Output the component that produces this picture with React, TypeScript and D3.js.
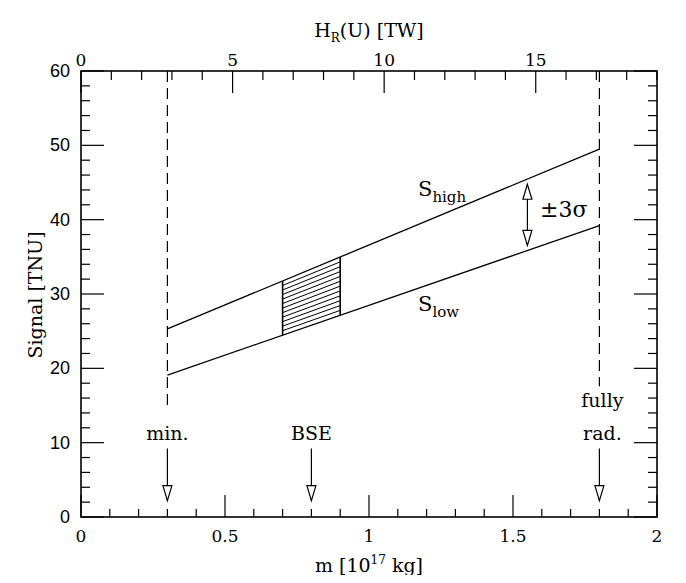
import React, { useEffect, useRef } from 'react';
import * as d3 from 'd3';

// S_high and S_low (TNU) at the two ends of the allowed mass range
const massEnds = [0.3, 1.8];
const sHigh = [25.3, 49.5];
const sLow = [19.1, 39.2];
// BSE band
const bseRange = [0.7, 0.9];
// markers (m, label lines)
const markers = [
  { m: 0.3, lines: ['min.'] },
  { m: 0.8, lines: ['BSE'] },
  { m: 1.8, lines: ['fully', 'rad.'] },
];
const dashedLines = [
  { m: 0.3, to: 15 },
  { m: 1.8, to: 17.6 },
];
const xTicks = [0, 0.5, 1, 1.5, 2];
const yTicks = [0, 10, 20, 30, 40, 50, 60];
const topTicks = [0, 5, 10, 15];
const hrMax = 19; // H_R(U) [TW] at m = 2

const serif = '"DejaVu Serif", serif';
const sans = '"Liberation Sans", Arial, sans-serif';

const App = () => {
  const svgRef = useRef<SVGSVGElement>(null);

  useEffect(() => {
    const svg = d3.select(svgRef.current);
    svg.selectAll('*').remove();

    const margin = { left: 81, right: 657, top: 71, bottom: 517 };
    const x = d3.scaleLinear().domain([0, 2]).range([margin.left, margin.right]);
    const y = d3.scaleLinear().domain([0, 60]).range([margin.bottom, margin.top]);
    const xTop = d3.scaleLinear().domain([0, hrMax]).range([margin.left, margin.right]);

    const g = svg.append('g');

    // open arrow head with its tip at (px, py), pointing up (dir=-1) or down (dir=1)
    const head = (px: number, py: number, dir: number) => {
      const len = 15, half = 4.5;
      g.append('path')
        .attr('d', `M${px},${py} L${px - half},${py - dir * len} L${px + half},${py - dir * len} Z`)
        .attr('fill', 'white')
        .attr('stroke', 'black')
        .attr('stroke-width', 1.2)
        .attr('stroke-linejoin', 'miter');
    };

    // frame
    g.append('rect')
      .attr('x', margin.left)
      .attr('y', margin.top)
      .attr('width', margin.right - margin.left)
      .attr('height', margin.bottom - margin.top)
      .attr('fill', 'none')
      .attr('stroke', 'black')
      .attr('stroke-width', 1.6);

    // bottom m ticks, top H_R ticks
    d3.range(0, 2.0001, 0.1).forEach((v) => {
      const major = Math.abs(v * 2 - Math.round(v * 2)) < 1e-6;
      const len = major ? 22 : 8;
      g.append('line')
        .attr('x1', x(v)).attr('x2', x(v))
        .attr('y1', margin.bottom).attr('y2', margin.bottom - len)
        .attr('stroke', 'black').attr('stroke-width', 1.2);
    });
    d3.range(0, hrMax + 0.001, 1).forEach((v) => {
      const len = v % 5 === 0 ? 22 : 9;
      g.append('line')
        .attr('x1', xTop(v)).attr('x2', xTop(v))
        .attr('y1', margin.top).attr('y2', margin.top + len)
        .attr('stroke', 'black').attr('stroke-width', 1.2);
    });
    // left/right ticks
    d3.range(0, 60.001, 2).forEach((v) => {
      const len = v % 10 === 0 ? 23 : 9;
      g.append('line')
        .attr('x1', margin.left).attr('x2', margin.left + len)
        .attr('y1', y(v)).attr('y2', y(v))
        .attr('stroke', 'black').attr('stroke-width', 1.2);
      g.append('line')
        .attr('x1', margin.right).attr('x2', margin.right - len)
        .attr('y1', y(v)).attr('y2', y(v))
        .attr('stroke', 'black').attr('stroke-width', 1.2);
    });

    // tick labels
    g.selectAll('.xt')
      .data(xTicks)
      .join('text')
      .attr('x', (d) => x(d))
      .attr('y', 542)
      .attr('text-anchor', 'middle')
      .attr('font-family', serif)
      .attr('font-size', 17)
      .text((d) => String(d));
    g.selectAll('.tt')
      .data(topTicks)
      .join('text')
      .attr('x', (d) => xTop(d))
      .attr('y', 66)
      .attr('text-anchor', 'middle')
      .attr('font-family', serif)
      .attr('font-size', 17)
      .text((d) => String(d));
    g.selectAll('.yt')
      .data(yTicks)
      .join('text')
      .attr('x', 70)
      .attr('y', (d) => y(d) + 6)
      .attr('text-anchor', 'end')
      .attr('font-family', sans)
      .attr('font-size', 18)
      .text((d) => String(d));

    // axis titles
    const xt = g.append('text')
      .attr('x', 369).attr('y', 572)
      .attr('text-anchor', 'middle')
      .attr('font-family', serif).attr('font-size', 19);
    xt.append('tspan').text('m  [10');
    xt.append('tspan').attr('dy', -8).attr('font-size', 12).text('17');
    xt.append('tspan').attr('dy', 8).text(' kg]');

    const tt = g.append('text')
      .attr('x', 369).attr('y', 37)
      .attr('text-anchor', 'middle')
      .attr('font-family', serif).attr('font-size', 19);
    tt.append('tspan').text('H');
    tt.append('tspan').attr('dy', 5).attr('font-size', 12).text('R');
    tt.append('tspan').attr('dy', -5).text('(U)  [TW]');

    g.append('text')
      .attr('transform', `translate(42,295) rotate(-90)`)
      .attr('text-anchor', 'middle')
      .attr('font-family', serif).attr('font-size', 19)
      .text('Signal [TNU]');

    // dashed markers
    dashedLines.forEach((d) => {
      g.append('line')
        .attr('x1', x(d.m)).attr('x2', x(d.m))
        .attr('y1', margin.top).attr('y2', y(d.to))
        .attr('stroke', 'black').attr('stroke-width', 1.2)
        .attr('stroke-dasharray', '11,6');
    });

    // S lines
    const line = d3.line<number[]>().x((d) => x(d[0])).y((d) => y(d[1]));
    [sHigh, sLow].forEach((s) => {
      g.append('path')
        .datum(massEnds.map((m, i) => [m, s[i]]))
        .attr('d', line)
        .attr('fill', 'none')
        .attr('stroke', 'black')
        .attr('stroke-width', 1.3);
    });

    const interp = (s: number[], m: number) =>
      s[0] + ((s[1] - s[0]) * (m - massEnds[0])) / (massEnds[1] - massEnds[0]);

    // hatched BSE band
    const [b0, b1] = bseRange;
    const nHatch = 12;
    for (let i = 1; i < nHatch; i++) {
      const f = i / nHatch;
      const v0 = interp(sLow, b0) + f * (interp(sHigh, b0) - interp(sLow, b0));
      const v1 = interp(sLow, b1) + f * (interp(sHigh, b1) - interp(sLow, b1));
      g.append('line')
        .attr('x1', x(b0)).attr('x2', x(b1))
        .attr('y1', y(v0)).attr('y2', y(v1))
        .attr('stroke', 'black').attr('stroke-width', 1);
    }
    bseRange.forEach((m) => {
      g.append('line')
        .attr('x1', x(m)).attr('x2', x(m))
        .attr('y1', y(interp(sLow, m))).attr('y2', y(interp(sHigh, m)))
        .attr('stroke', 'black').attr('stroke-width', 1.6);
    });

    // labels S_high / S_low
    const sh = g.append('text').attr('x', 418).attr('y', 196)
      .attr('font-family', serif).attr('font-size', 21);
    sh.append('tspan').text('S');
    sh.append('tspan').attr('dy', 6).attr('font-size', 15).text('high');
    const sl = g.append('text').attr('x', 418).attr('y', 311)
      .attr('font-family', serif).attr('font-size', 21);
    sl.append('tspan').text('S');
    sl.append('tspan').attr('dy', 6).attr('font-size', 15).text('low');

    // ±3σ double arrow
    const mSig = 1.55;
    const top = interp(sHigh, mSig) - 0.7;
    const bot = interp(sLow, mSig) + 0.7;
    g.append('line')
      .attr('x1', x(mSig)).attr('x2', x(mSig))
      .attr('y1', y(top)).attr('y2', y(bot))
      .attr('stroke', 'black').attr('stroke-width', 1.2);
    head(x(mSig), y(top), -1);
    head(x(mSig), y(bot), 1);
    g.append('text').attr('x', 540).attr('y', 217)
      .attr('font-family', serif).attr('font-size', 22)
      .text('±3σ');

    // bottom markers
    markers.forEach((mk) => {
      mk.lines.forEach((t, i) => {
        g.append('text')
          .attr('x', x(mk.m) + (mk.lines.length > 1 ? 3 : 0))
          .attr('y', 440 - (mk.lines.length - 1 - i) * 33)
          .attr('text-anchor', 'middle')
          .attr('font-family', serif).attr('font-size', 19)
          .text(t);
      });
      g.append('line')
        .attr('x1', x(mk.m)).attr('x2', x(mk.m))
        .attr('y1', y(9.2)).attr('y2', y(2.2))
        .attr('stroke', 'black').attr('stroke-width', 1.2);
      head(x(mk.m), y(2.2), 1);
    });
  }, []);

  return <svg ref={svgRef} width={686} height={583} style={{ display: 'block', margin: -8 }} />;
};

export default App;
